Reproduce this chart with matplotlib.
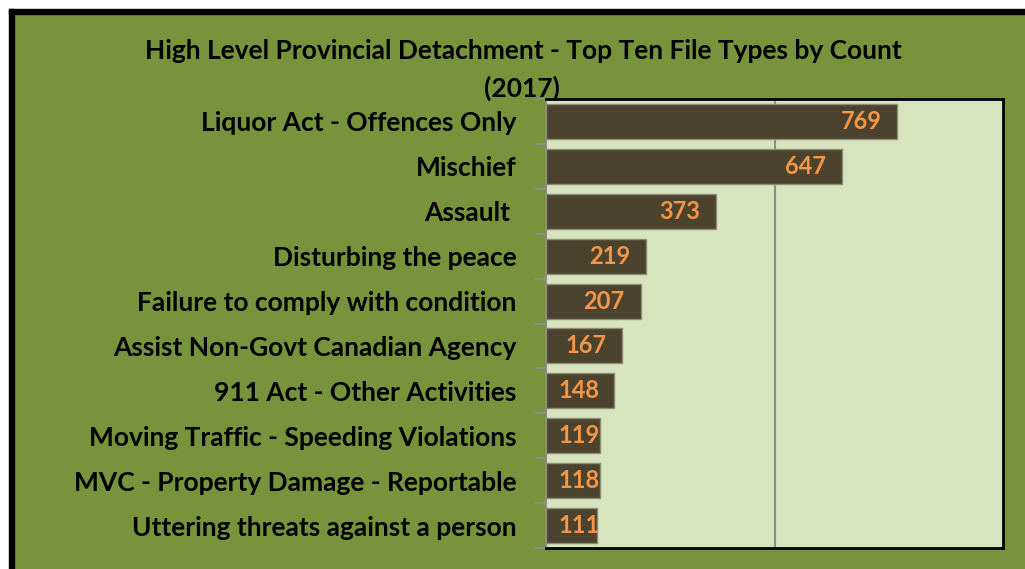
import matplotlib.pyplot as plt
from matplotlib.patches import Rectangle
import numpy as np

categories = ['Liquor Act - Offences Only', 'Mischief', 'Assault ', 'Disturbing the peace',
              'Failure to comply with condition', 'Assist Non-Govt Canadian Agency',
              '911 Act - Other Activities', 'Moving Traffic - Speeding Violations',
              'MVC - Property Damage - Reportable', 'Uttering threats against a person']
counts = [769, 647, 373, 219, 207, 167, 148, 119, 118, 111]

plt.rcParams['font.family'] = ['Lato', 'DejaVu Sans']
plt.rcParams['font.weight'] = 'bold'

W, H = 1025, 569
fig = plt.figure(figsize=(W / 100, H / 100), dpi=100)
fig.patch.set_facecolor('#77933C')

# white margin + black frame at top/left (cropped chart)
fig.add_artist(Rectangle((0, 1 - 9 / H), 1, 9 / H, transform=fig.transFigure, color='white', zorder=0))
fig.add_artist(Rectangle((0, 0), 9 / W, 1, transform=fig.transFigure, color='white', zorder=0))
fig.add_artist(Rectangle((9 / W, 1 - 14 / H), 1, 5 / H, transform=fig.transFigure, color='black', zorder=0))
fig.add_artist(Rectangle((9 / W, 0), 5 / W, 1 - 9 / H, transform=fig.transFigure, color='black', zorder=0))

ax = fig.add_axes([546 / W, (H - 548) / H, (1003 - 546) / W, (548 - 99) / H])
ax.set_facecolor('#D7E4BD')

y = np.arange(len(categories))
ax.barh(y, counts, height=0.78, color='#4B432D', edgecolor='#8C8C78', linewidth=1, zorder=3)
ax.set_xlim(0, 1000)
ax.set_ylim(len(categories) - 0.5, -0.5)
ax.axvline(500, color='#8C8C8C', lw=1.5, zorder=1)

for yi, v in zip(y, counts):
    ax.text(max(v - 35, 118), yi, str(v), ha='right', va='center', color='#F79646',
            fontsize=17, fontweight='bold', zorder=4)

ax.set_yticks(np.arange(len(categories) + 1) - 0.5, minor=False)
ax.set_yticks(y, minor=True)
ax.set_yticklabels([], minor=False)
ax.set_yticklabels(categories, minor=True, fontsize=19, fontweight='bold')
ax.tick_params(axis='y', which='major', length=8, width=1.5, color='#8C8C8C')
ax.tick_params(axis='y', which='minor', length=0, pad=21)
ax.set_xticks([])

for s in ['top', 'right', 'bottom']:
    ax.spines[s].set_color('black')
    ax.spines[s].set_linewidth(2)
ax.spines['left'].set_color('#8C8C8C')
ax.spines['left'].set_linewidth(1.5)

fig.text(523 / W, 1 - 51 / H, 'High Level Provincial Detachment - Top Ten File Types by Count',
         ha='center', va='center', fontsize=19, fontweight='bold')
fig.text(522 / W, 1 - 88 / H, '(2017)', ha='center', va='center', fontsize=19,
         fontweight='bold', zorder=5)

fig.savefig('out.png', dpi=100, facecolor=fig.get_facecolor())
